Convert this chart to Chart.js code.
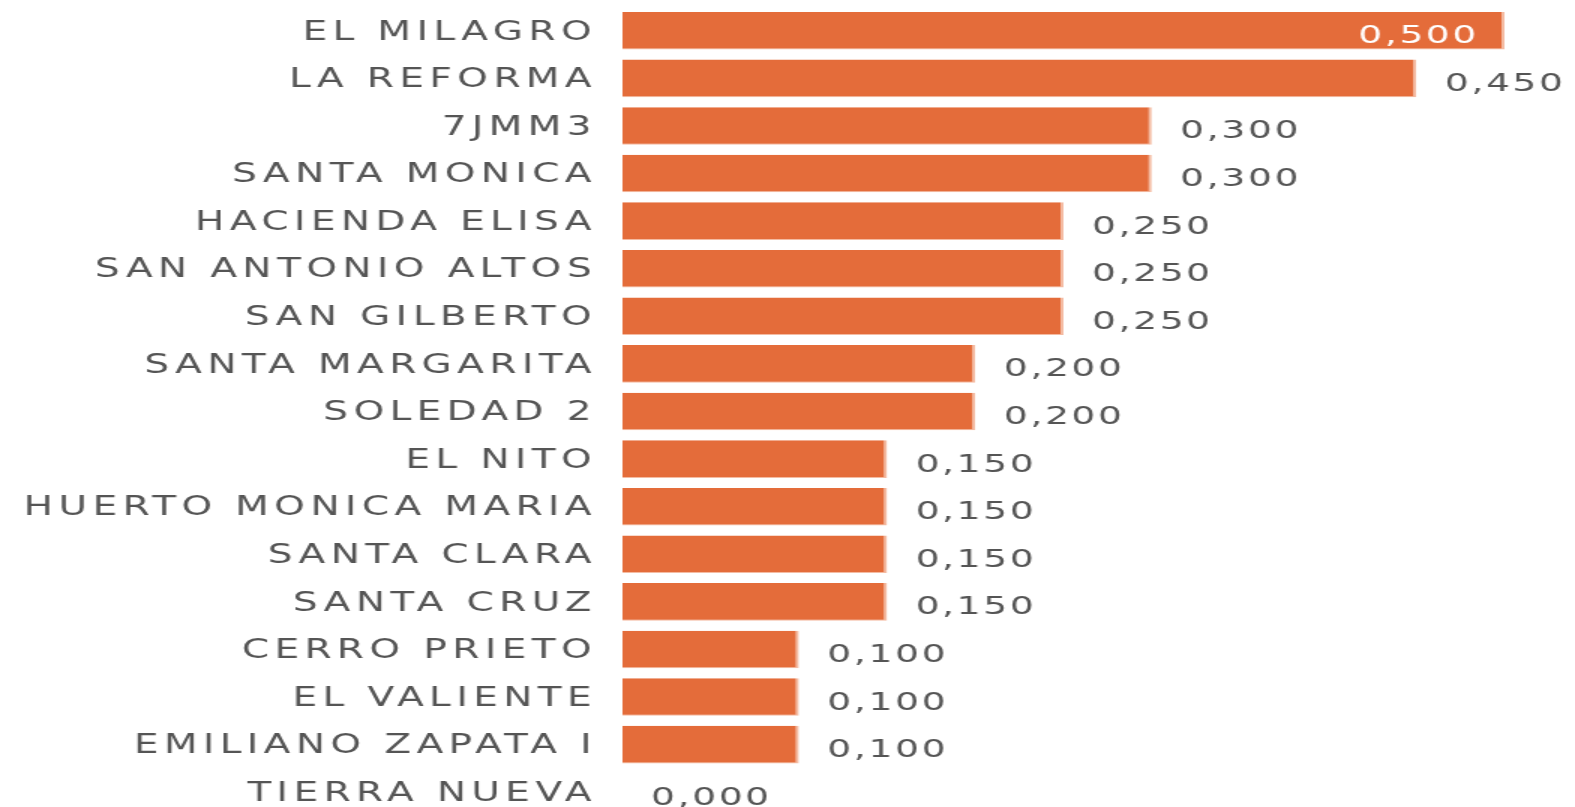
<!DOCTYPE html>
<html>
<head>
<meta charset="utf-8">
<script src="https://cdn.jsdelivr.net/npm/chart.js@4.4.0/dist/chart.umd.min.js"></script>
<style>
    html, body { margin: 0; padding: 0; overflow: hidden; background: #fff; }
    /* the reference looks stretched sideways, so draw narrow and widen */
    #wrap { width: 1050px; height: 817px; transform: scaleX(1.5); transform-origin: 0 0; }
    #myChart { display: block; width: 1050px; height: 817px; }
</style>
</head>
<body>
<div id="wrap"><canvas id="myChart" width="1050" height="817"></canvas></div>
<script>
const categories = ['EL MILAGRO', 'LA REFORMA', '7JMM3', 'SANTA MONICA', 'HACIENDA ELISA',
    'SAN ANTONIO ALTOS', 'SAN GILBERTO', 'SANTA MARGARITA', 'SOLEDAD 2', 'EL NITO',
    'HUERTO MONICA MARIA', 'SANTA CLARA', 'SANTA CRUZ', 'CERRO PRIETO', 'EL VALIENTE',
    'EMILIANO ZAPATA I', 'TIERRA NUEVA'];
const values = [0.5, 0.45, 0.3, 0.3, 0.25, 0.25, 0.25, 0.2, 0.2, 0.15, 0.15, 0.15, 0.15, 0.1, 0.1, 0.1, 0];

const textColor = '#555555';

function fmt(v) {
    return v.toFixed(3).replace('.', ',');
}

// canvas resets its state on resize, so put the spacing back before layout and draw
const spacingPlugin = {
    id: 'spacing',
    beforeUpdate: function (chart) { chart.ctx.letterSpacing = '3.6px'; },
    beforeDraw: function (chart) { chart.ctx.letterSpacing = '3.6px'; }
};

const valueLabels = {
    id: 'valueLabels',
    afterDatasetsDraw: function (chart) {
        const ctx = chart.ctx;
        const meta = chart.getDatasetMeta(0);
        ctx.save();
        ctx.letterSpacing = '1.8px';
        ctx.font = '25px "DejaVu Sans"';
        ctx.textBaseline = 'middle';
        meta.data.forEach(function (bar, i) {
            let txt = fmt(values[i]);
            let w = ctx.measureText(txt).width;
            let y = bar.y + 6;
            if (bar.x + 19 + w > chart.width + 5) {
                ctx.fillStyle = '#ffffff';
                ctx.textAlign = 'right';
                ctx.fillText(txt, bar.x - 17, y);
            } else {
                ctx.fillStyle = textColor;
                ctx.textAlign = 'left';
                ctx.fillText(txt, bar.x + 19, y);
            }
        });
        ctx.restore();
    }
};

const ctx = document.getElementById('myChart');
const myBarChart = new Chart(ctx, {
    type: 'bar',
    data: {
        labels: categories,
        datasets: [{
            data: values,
            backgroundColor: '#E46C3A',
            borderColor: '#F4BBA2',
            borderWidth: { top: 0, left: 0, right: 2, bottom: 1 },
            borderSkipped: false,
            barPercentage: 0.79,
            categoryPercentage: 1
        }]
    },
    options: {
        indexAxis: 'y',
        responsive: false,
        maintainAspectRatio: false,
        devicePixelRatio: 1,
        animation: false,
        layout: { padding: { top: 7, bottom: 1, left: 0, right: 47 } },
        plugins: {
            legend: { display: false },
            tooltip: { enabled: false }
        },
        scales: {
            x: {
                display: false,
                min: 0,
                max: 0.5
            },
            y: {
                grid: { display: false, drawTicks: false },
                border: { display: false },
                ticks: {
                    color: textColor,
                    padding: 17,
                    labelOffset: 2,
                    font: { family: 'DejaVu Sans', size: 26 }
                },
                afterFit: function (scale) {
                    scale.width = 415;
                    scale.paddingTop = 0;
                    scale.paddingBottom = 0;
                }
            }
        }
    },
    plugins: [spacingPlugin, valueLabels]
});
</script>
</body>
</html>
